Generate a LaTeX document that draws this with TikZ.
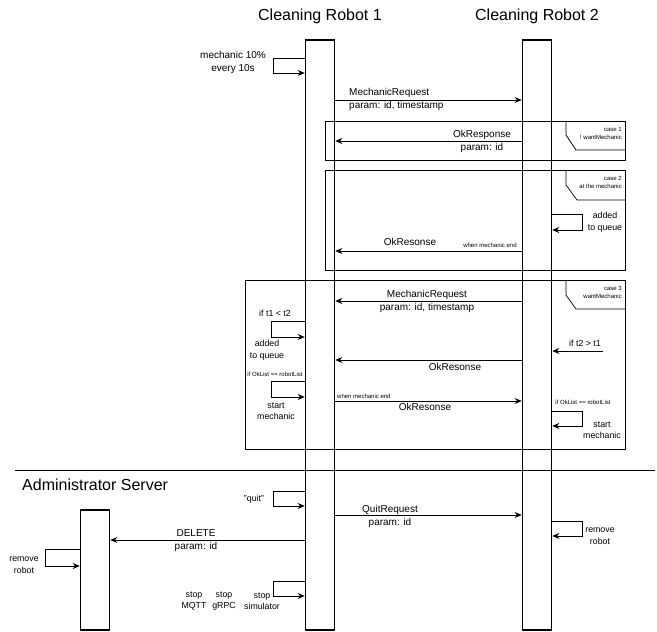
\documentclass[tikz,border=0pt]{standalone}
\usepackage{fontspec}
\setmainfont{Liberation Sans}
\usetikzlibrary{arrows.meta}
\begin{document}
\begin{tikzpicture}[x=1pt,y=-1pt,
  lifeline/.style={draw,line width=1.6pt,minimum width=29,inner sep=0},
  msg/.style={line width=0.8pt,-{Stealth[length=7pt,width=6pt]}},
  frame/.style={draw,line width=0.7pt},
  lbl/.style={font=\fontsize{10}{13}\selectfont,inner sep=0,align=center},
  sml/.style={font=\fontsize{8.8}{11.5}\selectfont,inner sep=0,align=center},
  tiny/.style={font=\fontsize{6}{8}\selectfont,inner sep=0},
  title/.style={font=\fontsize{16}{19}\selectfont,inner sep=0},
]
\useasboundingbox (0,0) rectangle (657,632);
% titles
\node[title] (t1) at (320,16) {Cleaning Robot 1};
\node[title] (t2) at (537,16) {Cleaning Robot 2};
% lifelines
\node[lifeline,minimum height=590] (r1) at (320,335) {};
\node[lifeline,minimum height=590] (r2) at (537,335) {};
\node[lifeline,minimum height=120] (adm) at (95,570) {};

% mechanic 10% loop
\draw[msg] (r1.west |- 0,58) -- (273,58) |- (r1.west |- 0,73);
\node[lbl,anchor=east] (m10) at (266,62) {mechanic 10\%\\every 10s};

% MechanicRequest
\draw[msg] (r1.east |- 0,100) -- (r2.west |- 0,100);
\node[lbl,anchor=west,align=left] (mr1) at (349,99) {MechanicRequest\\param: id, timestamp};

% case 1
\draw[frame] (325,121) rectangle (625,160);
\draw[frame] (566,121) -- (566,135) -- (576,150) -- (625,150);
\node[tiny,anchor=north east,align=right] (c1) at (622,127) {case 1\\! wantMechanic};
\draw[msg] (r2.west |- 0,141) -- (r1.east |- 0,141);
\node[lbl] (ok1) at (482,141.5) {OkResponse\\param: id};

% case 2
\draw[frame] (325,170) rectangle (625,270);
\draw[frame] (566,170) -- (566,185) -- (577,200) -- (625,200);
\node[tiny,anchor=north east,align=right] (c2) at (622,176) {case 2\\at the mechanic};
\draw[msg] (r2.east |- 0,214) -- (582,214) |- (r2.east |- 0,230);
\node[sml] (aq2) at (605,222) {added\\to queue};
\draw[msg] (r2.west |- 0,251) -- (r1.east |- 0,251);
\node[lbl] (ok2) at (410,242) {OkResonse};
\node[tiny] (wm2) at (490,245) {when mechanic end};

% case 3
\draw[frame] (245,280) rectangle (625,449);
\draw[frame] (566,280) -- (566,295) -- (576,309) -- (625,309);
\node[tiny,anchor=north east,align=right] (c3) at (622,286) {case 3\\wantMechanic};
\draw[msg] (r2.west |- 0,301) -- (r1.east |- 0,301);
\node[lbl] (mr3) at (427,301) {MechanicRequest\\param: id, timestamp};
\node[sml] (if1) at (275,313) {if t1 {\textless} t2};
\draw[msg] (r1.west |- 0,321) -- (271,321) |- (r1.west |- 0,337);
\node[sml] (aq3) at (267,350) {added\\to queue};
\node[tiny] (ol1) at (275,374) {if OkList == robotList};
\draw[msg] (r1.west |- 0,381) -- (271,381) |- (r1.west |- 0,397);
\node[sml] (sm1) at (276,411) {start\\mechanic};
\node[sml] (if2) at (585,343) {if t2 {\textgreater} t1};
\coordinate (f1) at (603,351);
\draw[msg] (f1) -- (r2.east |- f1);
\draw[msg] (r2.west |- 0,360) -- (r1.east |- 0,360);
\node[lbl] (ok3) at (455,367) {OkResonse};
\node[tiny,anchor=west] (wm3) at (337,396) {when mechanic end};
\draw[msg] (r1.east |- 0,401) -- (r2.west |- 0,401);
\node[lbl] (ok4) at (425,407) {OkResonse};
\node[tiny] (ol2) at (583,402) {if OkList == robotList};
\draw[msg] (r2.east |- 0,411) -- (582,411) |- (r2.east |- 0,426);
\node[sml] (sm2) at (602,430) {start\\mechanic};

% separator
\draw[line width=0.8pt] (15,470) -- (655,470);
\node[title,anchor=west] (as) at (22,485) {Administrator Server};

% quit
\draw[msg] (r1.west |- 0,491) -- (273,491) |- (r1.west |- 0,506);
\node[sml] (q) at (254,499) {"quit"};
\draw[msg] (r1.east |- 0,515) -- (r2.west |- 0,515);
\node[lbl] (qr) at (390,516) {QuitRequest\\param: id};
\draw[msg] (r2.east |- 0,521) -- (582,521) |- (r2.east |- 0,536);
\node[sml] (rr2) at (600,536) {remove\\robot};
\draw[msg] (r1.west |- 0,540) -- (adm.east |- 0,540);
\node[lbl] (del) at (196,541) {DELETE\\param: id};
\draw[msg] (adm.west |- 0,549) -- (45,549) |- (adm.west |- 0,566);
\node[sml] (rr1) at (24,565) {remove\\robot};
\draw[msg] (r1.west |- 0,581) -- (273,581) |- (r1.west |- 0,596);
\node[sml] (s1) at (194,601) {stop\\MQTT};
\node[sml] (s2) at (224,601) {stop\\gRPC};
\node[sml] (s3) at (262,601) {stop\\simulator};
\end{tikzpicture}
\end{document}
